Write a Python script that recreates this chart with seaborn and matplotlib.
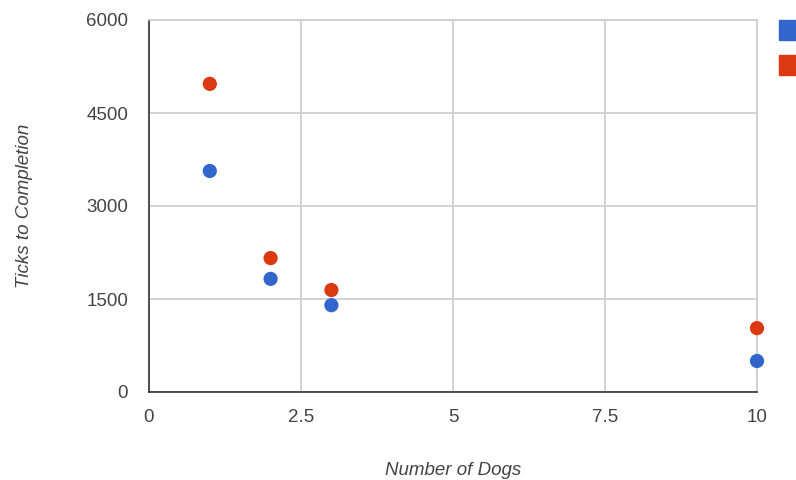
import seaborn as sns
import matplotlib.pyplot as plt
import pandas as pd
from matplotlib.patches import Patch

# data
dogs = [1, 2, 3, 10]
ticks_blue = [3565, 1825, 1400, 500]
ticks_red = [4970, 2160, 1645, 1030]

x_ticks = [0, 2.5, 5, 7.5, 10]
x_labels = ["0", "2.5", "5", "7.5", "10"]
y_ticks = [0, 1500, 3000, 4500, 6000]

blue = "#3366CC"
red = "#DC3912"


def main():
    df = pd.DataFrame({
        "dogs": dogs * 2,
        "ticks": ticks_blue + ticks_red,
        "series": ["blue"] * len(dogs) + ["red"] * len(dogs),
    })

    sns.set_style("white")
    plt.rcParams['font.family'] = ['Liberation Sans', 'DejaVu Sans']

    fig = plt.figure(figsize=(7.96, 4.8), dpi=100)
    ax = fig.add_axes([149 / 796, 88 / 480, 608 / 796, 372 / 480])

    sns.scatterplot(data=df, x="dogs", y="ticks", hue="series",
                    palette={"blue": blue, "red": red}, s=105,
                    edgecolor="none", legend=False, ax=ax, zorder=3,
                    clip_on=False)

    ax.set_xlim(0, 10)
    ax.set_ylim(0, 6000)
    ax.set_xticks(x_ticks)
    ax.set_xticklabels(x_labels)
    ax.set_yticks(y_ticks)
    ax.grid(True, color="#cccccc", lw=1.2, zorder=0)
    ax.set_axisbelow(True)

    for side in ["top", "right"]:
        ax.spines[side].set_color("#cccccc")
        ax.spines[side].set_linewidth(1.2)
    for side in ["left", "bottom"]:
        ax.spines[side].set_color("#333333")
        ax.spines[side].set_linewidth(1.2)

    ax.tick_params(length=0, labelsize=13.5, colors="#444444")
    ax.tick_params(axis="y", pad=15)
    ax.tick_params(axis="x", pad=12)

    ax.set_xlabel("Number of Dogs", fontsize=13.5, style="italic",
                  color="#444444", labelpad=26)
    ax.set_ylabel("Ticks to Completion", fontsize=13.5, style="italic",
                  color="#444444", labelpad=38)

    # legend squares, labels run off the right edge
    handles = [Patch(color=blue), Patch(color=red)]
    fig.legend(handles, [" ", " "], loc="upper left",
               bbox_to_anchor=(779 / 796, 1 - 20 / 480), frameon=False,
               handlelength=1.3, handleheight=1.3, labelspacing=0.75,
               borderaxespad=0, borderpad=0, fontsize=13.5)

    fig.savefig("out.png", dpi=100)


if __name__ == '__main__':
    main()
